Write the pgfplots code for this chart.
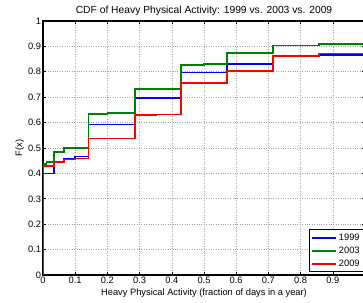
\documentclass[border=0pt]{standalone}
\usepackage{pgfplots}
\pgfplotsset{compat=1.18}
\usepackage{fontspec}
\setmainfont{Liberation Sans}
\definecolor{mgreen}{rgb}{0,0.5,0}
\begin{document}
\begin{tikzpicture}
\begin{axis}[
  name=ax,
  scale only axis,
  width=322pt, height=254pt,
  xmin=0, xmax=1, ymin=0, ymax=1,
  xtick={0,0.1,...,1.0},
  ytick={0,0.1,...,1.0},
  xticklabels={0,0.1,0.2,0.3,0.4,0.5,0.6,0.7,0.8,0.9,{}},
  yticklabels={0,0.1,0.2,0.3,0.4,0.5,0.6,0.7,0.8,0.9,1},
  tick align=inside,
  major tick length=3pt,
  grid=major,
  major grid style={gray!70, dotted, line width=0.6pt},
  axis line style={line width=1.2pt},
  tick style={black, line width=0.6pt},
  ticklabel style={font=\fontsize{9.3}{10}\selectfont},
  xticklabel style={yshift=1.5pt},
  yticklabel style={xshift=1.5pt},
  title={CDF of Heavy Physical Activity: 1999 vs. 2003 vs. 2009},
  title style={font=\fontsize{10.3}{11}\selectfont, yshift=-4pt},
  xlabel={Heavy Physical Activity (fraction of days in a year)},
  ylabel={F(x)},
  label style={font=\fontsize{9.3}{10}\selectfont},
  xlabel style={yshift=1.5pt},
  ylabel style={yshift=-3pt},
  legend style={at={(rel axis cs:1,0)}, anchor=south east, xshift=-1pt, yshift=3pt,
    font=\fontsize{9.3}{10}\selectfont, draw=black, line width=0.8pt, inner sep=2pt, row sep=1pt},
  legend cell align=left,
  legend image code/.code={\draw[#1, line width=2pt] (0pt,0pt) -- (24pt,0pt);},
]
\addplot[const plot, blue, line width=1.7pt] coordinates {
(0,0)(0,0.400)(0.034,0.444)(0.066,0.457)(0.1,0.466)(0.141,0.593)(0.286,0.696)(0.429,0.797)(0.571,0.830)(0.714,0.860)(0.857,0.867)(1,0.867)};
\addlegendentry{1999}
\addplot[const plot, mgreen, line width=1.7pt] coordinates {
(0,0)(0,0.437)(0.011,0.445)(0.034,0.484)(0.066,0.499)(0.141,0.634)(0.2,0.637)(0.286,0.732)(0.429,0.828)(0.5,0.831)(0.571,0.874)(0.714,0.903)(0.857,0.910)(1,0.910)};
\addlegendentry{2003}
\addplot[const plot, red, line width=1.7pt] coordinates {
(0,0)(0,0.428)(0.034,0.446)(0.066,0.455)(0.1,0.459)(0.141,0.537)(0.286,0.629)(0.35,0.632)(0.429,0.755)(0.571,0.804)(0.714,0.861)(0.857,0.872)(1,0.872)};
\addlegendentry{2009}
\end{axis}
\pgfresetboundingbox
\path[use as bounding box] ([xshift=-43pt,yshift=-27pt]ax.south west) rectangle ([xshift=-2pt,yshift=21pt]ax.north east);
\end{tikzpicture}
\end{document}
